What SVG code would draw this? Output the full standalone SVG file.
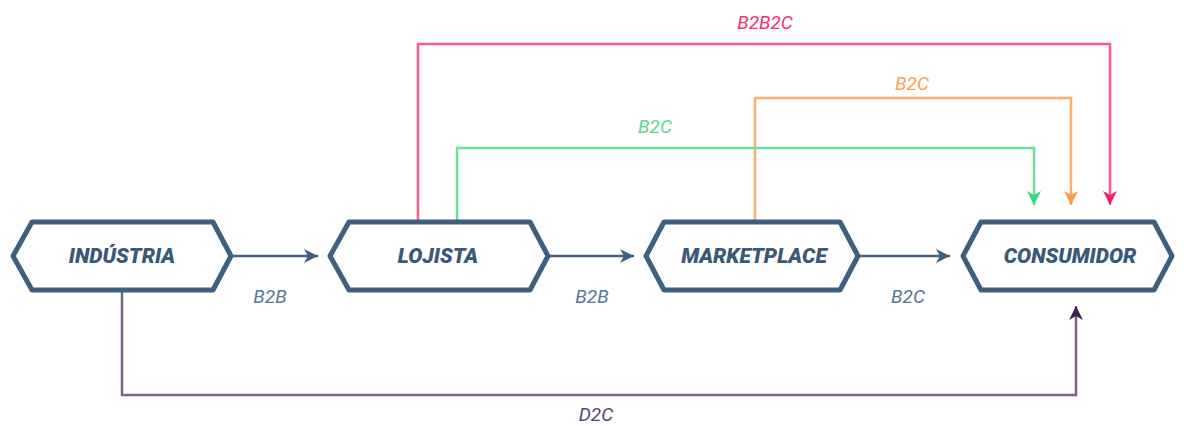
<svg xmlns="http://www.w3.org/2000/svg" width="1184" height="426" viewBox="0 0 1184 426">
<style>
.node{fill:#fff;stroke:#3e5f7f;stroke-width:5;stroke-linejoin:round}
.nt{font-family:Roboto,"Liberation Sans",sans-serif;font-weight:900;font-style:italic;font-size:21px;fill:#3a5877;text-anchor:middle;dominant-baseline:central}
.el{font-family:Roboto,"Liberation Sans",sans-serif;font-style:italic;font-size:19px;text-anchor:middle;dominant-baseline:central}
.c{fill:none;stroke-width:2.5}
</style>
<defs>
<marker id="aBlue" markerWidth="16" markerHeight="14" refX="14" refY="7" orient="auto" markerUnits="userSpaceOnUse"><path d="M0,0 L14,7 L0,14 L4,7 Z" fill="#3e5f7f"/></marker>
<marker id="aPink" markerWidth="16" markerHeight="14" refX="14" refY="7" orient="auto" markerUnits="userSpaceOnUse"><path d="M0,0 L14,7 L0,14 L4,7 Z" fill="#f5206a"/></marker>
<marker id="aOrange" markerWidth="16" markerHeight="14" refX="14" refY="7" orient="auto" markerUnits="userSpaceOnUse"><path d="M0,0 L14,7 L0,14 L4,7 Z" fill="#ff9a45"/></marker>
<marker id="aGreen" markerWidth="16" markerHeight="14" refX="14" refY="7" orient="auto" markerUnits="userSpaceOnUse"><path d="M0,0 L14,7 L0,14 L4,7 Z" fill="#3dd47f"/></marker>
<marker id="aPurple" markerWidth="16" markerHeight="14" refX="14" refY="7" orient="auto" markerUnits="userSpaceOnUse"><path d="M0,0 L14,7 L0,14 L4,7 Z" fill="#3b2350"/></marker>
</defs>
<g id="connectors">
<path class="c" stroke="#44627f" d="M232,256 L318,256" marker-end="url(#aBlue)"/>
<path class="c" stroke="#44627f" d="M548,256 L634,256" marker-end="url(#aBlue)"/>
<path class="c" stroke="#44627f" d="M859,256 L950,256" marker-end="url(#aBlue)"/>
<path class="c" stroke="#ff5a8a" d="M418,220 L418,44 L1110,44 L1110,205" marker-end="url(#aPink)"/>
<path class="c" stroke="#ffab6a" d="M755,220 L755,98 L1071,98 L1071,205" marker-end="url(#aOrange)"/>
<path class="c" stroke="#6fdd9c" d="M457,220 L457,148 L1034,148 L1034,205" marker-end="url(#aGreen)"/>
<path class="c" stroke="#7d6188" d="M122,292 L122,395 L1076,395 L1076,306" marker-end="url(#aPurple)"/>
<text class="el" x="270" y="296" fill="#56779a">B2B</text>
<text class="el" x="592" y="296" fill="#56779a">B2B</text>
<text class="el" x="908" y="296" fill="#56779a">B2C</text>
<text class="el" x="765" y="22" fill="#f5306f">B2B2C</text>
<text class="el" x="912" y="83" fill="#ffa055">B2C</text>
<text class="el" x="655" y="126" fill="#5ad992">B2C</text>
<text class="el" x="596" y="414" fill="#5d4470">D2C</text>
</g>
<g id="industria">
<polygon class="node" points="13,256 32,222 213,222 231,256 213,290 32,290"/>
<text class="nt" x="122" y="256">INDÚSTRIA</text>
</g>
<g id="lojista">
<polygon class="node" points="330,256 349,222 530,222 548,256 530,290 349,290"/>
<text class="nt" x="438" y="256">LOJISTA</text>
</g>
<g id="marketplace">
<polygon class="node" points="646,256 664,222 840,222 858,256 840,290 664,290"/>
<text class="nt" x="754" y="256">MARKETPLACE</text>
</g>
<g id="consumidor">
<polygon class="node" points="963,256 981,222 1154,222 1172,256 1154,290 981,290"/>
<text class="nt" x="1070" y="256">CONSUMIDOR</text>
</g>
</svg>
